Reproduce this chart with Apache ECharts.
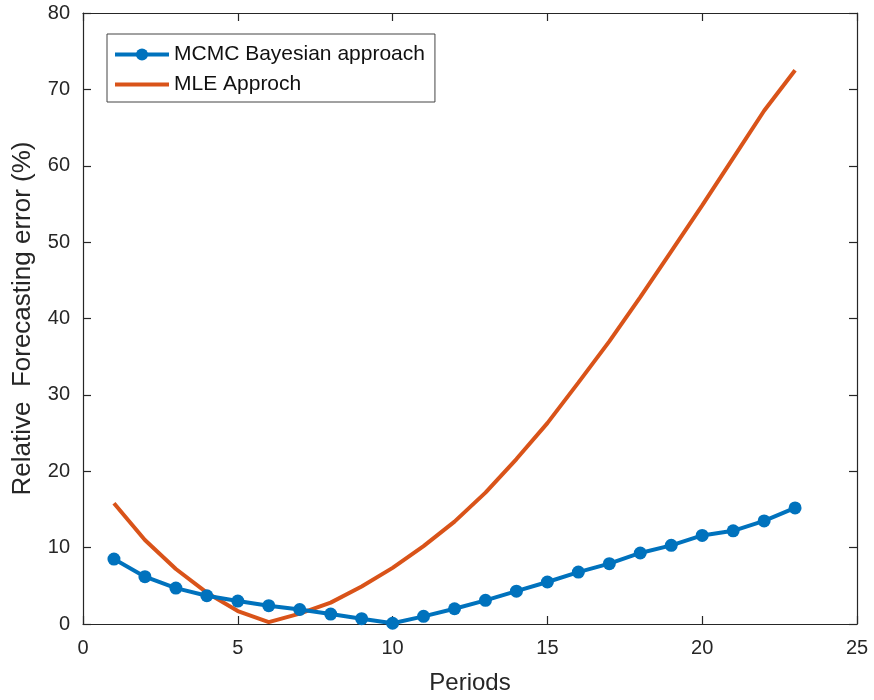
<!DOCTYPE html>
<html>
<head>
<meta charset="utf-8">
<script src="https://cdn.jsdelivr.net/npm/echarts@6/dist/echarts.min.js"></script>
<style>
  html, body { margin: 0; padding: 0; background: #fff; }
  #chart { width: 874px; height: 700px; }
</style>
</head>
<body>
<div id="chart"></div>
<script>
// Forecast horizon (periods)
const periods = [1,2,3,4,5,6,7,8,9,10,11,12,13,14,15,16,17,18,19,20,21,22,23];
// Relative forecasting error (%) per method
const mcmcError = [8.5,6.2,4.7,3.7,3.0,2.4,1.9,1.3,0.7,0.1,1.0,2.0,3.1,4.3,5.5,6.8,7.9,9.3,10.3,11.6,12.2,13.5,15.2];
const mleError  = [15.8,11.0,7.2,4.1,1.7,0.25,1.35,2.8,4.9,7.35,10.2,13.4,17.2,21.6,26.3,31.6,37.0,42.8,48.8,54.8,61.0,67.2,72.5];
const seriesNames = ['MCMC Bayesian approach', 'MLE Approch'];
const xTicks = { min: 0, max: 25, interval: 5 };
const yTicks = { min: 0, max: 80, interval: 10 };

const axisColor = '#262626';
const font = 'Liberation Sans, Arial, Helvetica, sans-serif';

const toPairs = (xs, ys) => xs.map((x, i) => [x, ys[i]]);

const chart = echarts.init(document.getElementById('chart'), null, { renderer: 'canvas' });

const baseAxisLine = { show: true, onZero: false, lineStyle: { color: axisColor, width: 1.2 } };
const tickInside = { show: true, inside: true, length: 8, lineStyle: { color: axisColor, width: 1.2 } };

chart.setOption({
  backgroundColor: '#ffffff',
  animation: false,
  grid: { left: 83, right: 17, top: 13, bottom: 76, containLabel: false },
  legend: {
    orient: 'vertical',
    left: 107,
    top: 34,
    padding: [10, 10, 7, 6],
    itemGap: 9,
    itemWidth: 54,
    itemHeight: 15,
    borderColor: '#444',
    borderWidth: 1,
    borderRadius: 0,
    backgroundColor: '#fff',
    lineStyle: { width: 4 },
    textStyle: { fontFamily: font, fontSize: 21, color: '#111' },
    data: [
      { name: seriesNames[0] },
      // the MLE curve has no markers, so its key shows only the line
      { name: seriesNames[1], itemStyle: { opacity: 0 } }
    ]
  },
  xAxis: [
    {
      type: 'value', position: 'bottom',
      min: xTicks.min, max: xTicks.max, interval: xTicks.interval,
      name: 'Periods', nameLocation: 'middle', nameGap: 47,
      nameTextStyle: { fontFamily: font, fontSize: 24, color: '#262626' },
      axisLine: baseAxisLine, axisTick: tickInside,
      axisLabel: { fontFamily: font, fontSize: 20, color: '#262626', margin: 14 },
      splitLine: { show: false }
    },
    {
      type: 'value', position: 'top',
      min: xTicks.min, max: xTicks.max, interval: xTicks.interval,
      axisLine: baseAxisLine, axisTick: tickInside,
      axisLabel: { show: false }, splitLine: { show: false }
    }
  ],
  yAxis: [
    {
      type: 'value', position: 'left',
      min: yTicks.min, max: yTicks.max, interval: yTicks.interval,
      name: 'Relative  Forecasting error (%)', nameLocation: 'middle', nameGap: 47,
      nameTextStyle: { fontFamily: font, fontSize: 26, color: '#262626' },
      axisLine: baseAxisLine, axisTick: tickInside,
      axisLabel: { fontFamily: font, fontSize: 20, color: '#262626', margin: 13 },
      splitLine: { show: false }
    },
    {
      type: 'value', position: 'right',
      min: yTicks.min, max: yTicks.max, interval: yTicks.interval,
      axisLine: baseAxisLine, axisTick: tickInside,
      axisLabel: { show: false }, splitLine: { show: false }
    }
  ],
  series: [
    {
      name: seriesNames[0],
      type: 'line',
      xAxisIndex: 0, yAxisIndex: 0,
      data: toPairs(periods, mcmcError),
      symbol: 'circle', symbolSize: 13,
      lineStyle: { color: '#0072BD', width: 4 },
      itemStyle: { color: '#0072BD' },
      z: 3
    },
    {
      name: seriesNames[1],
      type: 'line',
      xAxisIndex: 0, yAxisIndex: 0,
      data: toPairs(periods, mleError),
      showSymbol: false, symbol: 'none',
      lineStyle: { color: '#D95319', width: 4 },
      itemStyle: { color: '#D95319' },
      z: 2
    }
  ]
});
</script>
</body>
</html>
